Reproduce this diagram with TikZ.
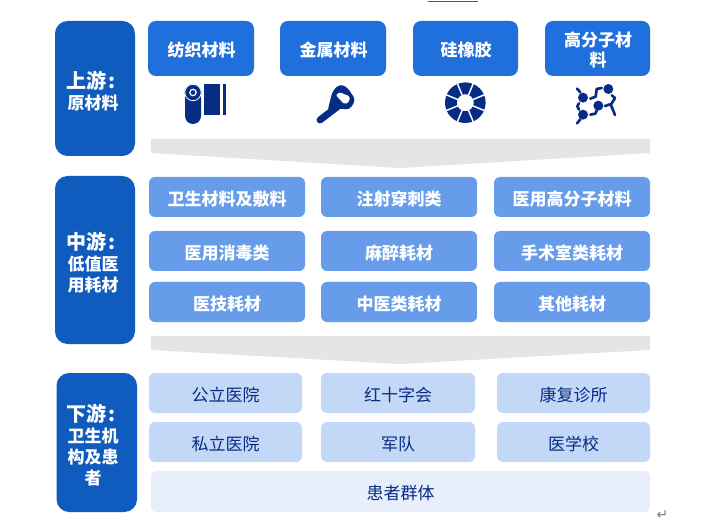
\documentclass[tikz,border=0pt]{standalone}
\usepackage{fontspec}
\setmainfont{Noto Sans CJK SC}
\newfontfamily\symfont{DejaVu Sans}
\definecolor{cside}{HTML}{0F5BBE}
\definecolor{ctop}{HTML}{1F6FDD}
\definecolor{cmid}{HTML}{669CEA}
\definecolor{clow}{HTML}{C3D7F6}
\definecolor{cpat}{HTML}{E8EFFB}
\definecolor{cnavy}{HTML}{072C84}
\definecolor{cgrey}{HTML}{E5E5E5}
\definecolor{crule}{HTML}{2A5CB8}
\tikzset{
  x=0.75pt,y=-0.75pt,
  boxbase/.style={inner sep=0pt,outer sep=0pt,align=center,anchor=center},
  sidebox/.style={boxbase,fill=cside,rounded corners=9.5pt,text=white,font=\fontsize{12.75}{15.6}\selectfont\bfseries},
  topbox/.style={boxbase,fill=ctop,rounded corners=6pt,text=white,font=\fontsize{12.75}{15}\selectfont\bfseries},
  midbox/.style={boxbase,fill=cmid,rounded corners=4.5pt,text=white,font=\fontsize{12.75}{15}\selectfont\bfseries},
  lowbox/.style={boxbase,fill=clow,rounded corners=4.5pt,text=cnavy,font=\fontsize{12.75}{15}\selectfont},
  patbox/.style={boxbase,fill=cpat,rounded corners=4.5pt,text=cnavy,font=\fontsize{12.75}{15}\selectfont},
  band/.style={fill=cgrey},
  icon/.style={fill=cnavy},
  molbond/.style={draw=cnavy,line width=2pt,line cap=round,line join=round},
}
% \bx{name}{style}{x0}{y0}{x1}{y1}{text}: box, then its text moved by \bxdx,\bxdy
\newcommand{\bxdx}{0pt}
\newcommand{\bxdy}{-1.5pt}
\newcommand{\bx}[7]{%
  \pgfmathsetmacro{\bxw}{(#5-#3)*0.75}%
  \pgfmathsetmacro{\bxh}{(#6-#4)*0.75}%
  \node[#2,minimum width=\bxw pt,minimum height=\bxh pt] (#1) at ({(#3+#5)/2},{(#4+#6)/2}) {};
  \node[#2,fill=none,minimum width=0pt,minimum height=0pt] (#1-t) at ([xshift=\bxdx,yshift=\bxdy]#1.center) {#7};}
\newcommand{\headln}[1]{{\fontsize{15}{18}\selectfont #1\kern1pt:\kern3pt}}
\begin{document}
\begin{tikzpicture}
\useasboundingbox (0,0) rectangle (705,530);
\fill[white] (0,0) rectangle (705,530);
% top rule
\draw[crule,line width=0.6pt] (428,1.5) -- (478,1.5);
% side boxes
\renewcommand{\bxdx}{-1.5pt}\renewcommand{\bxdy}{-2pt}
\bx{up}{sidebox}{55}{21}{135}{156}{\headln{上游}\\原材料}
\bx{mid}{sidebox}{55}{176}{135}{344}{\headln{中游}\\低值医\\用耗材}
\renewcommand{\bxdx}{-2.8pt}
\bx{down}{sidebox}{56.5}{373}{137}{512}{\headln{下游}\\卫生机\\构及患\\者}
% top row
\renewcommand{\bxdx}{0.4pt}\renewcommand{\bxdy}{-1pt}
\bx{t1}{topbox}{148}{21}{254}{76}{纺织材料}
\bx{t2}{topbox}{280}{21}{386}{76}{金属材料}
\bx{t3}{topbox}{413}{21}{518}{76}{硅橡胶}
\renewcommand{\bxdy}{-0.75pt}
\bx{t4}{topbox}{545}{21}{650}{76}{高分子材\\料}
\renewcommand{\bxdx}{0pt}\renewcommand{\bxdy}{-1.2pt}
% bands
\fill[band] (151,139) -- (650,139) -- (650,153) -- (400,168) -- (151,153) -- cycle;
\fill[band] (151,336) -- (650,336) -- (650,350) -- (400,364) -- (151,350) -- cycle;
% middle
\bx{m1}{midbox}{149}{177}{305}{217}{卫生材料及敷料}
\bx{m2}{midbox}{321}{177}{477}{217}{注射穿刺类}
\bx{m3}{midbox}{494}{177}{650}{217}{医用高分子材料}
\bx{m4}{midbox}{149}{231}{305}{271}{医用消毒类}
\bx{m5}{midbox}{321}{231}{477}{271}{麻醉耗材}
\bx{m6}{midbox}{494}{231}{650}{271}{手术室类耗材}
\bx{m7}{midbox}{149}{282}{305}{322}{医技耗材}
\bx{m8}{midbox}{321}{282}{477}{322}{中医类耗材}
\bx{m9}{midbox}{494}{282}{650}{322}{其他耗材}
% lower
\bx{l1}{lowbox}{149}{373}{302}{413}{公立医院}
\bx{l2}{lowbox}{321}{373}{475}{413}{红十字会}
\bx{l3}{lowbox}{497}{373}{650}{413}{康复诊所}
\bx{l4}{lowbox}{149}{422}{302}{462}{私立医院}
\bx{l5}{lowbox}{321}{422}{475}{462}{军队}
\bx{l6}{lowbox}{497}{422}{650}{462}{医学校}
\bx{l7}{patbox}{151}{471}{650}{512}{患者群体}
% return mark
\node[inner sep=0pt,text=gray,font=\symfont\fontsize{10.5}{10.5}\selectfont] (ret) at (662.5,515.5) {↵};
% icon: roll
\fill[icon,rounded corners=6pt] (185,90) -- (201,90) -- (201,124) -- (185,124) -- cycle;
\fill[icon] (193,92.5) circle[radius=8.5];
\draw[white,line width=0.6pt] (193,92.5) circle[radius=8.2];
\draw[white,line width=0.9pt] (193,92.5) circle[radius=3.2];
\fill[icon] (203.5,84) rectangle (220,115);
\fill[icon] (222.5,84) rectangle (225.5,115);
% icon: key
\begin{scope}[shift={(140,0)},x=0.25pt,y=-0.25pt]
\draw[cnavy,line width=5.2pt,line cap=round] (540,360) -- (595,318);
\fill[icon,rounded corners=3pt] (562,335) -- (578,272) -- (600,252) -- (622,262) -- (647,300) -- (628,330) -- (600,325) -- cycle;
\fill[white,rounded corners=1.5pt] (587,285) -- (603,275) -- (612,285) -- (627,285) -- (630,303) -- (614,314) -- cycle;
\end{scope}
% icon: rubber ring
\begin{scope}[shift={(465.3,102.7)}]
\fill[icon,even odd rule] (0,0) circle[radius=20.3] (0,0) circle[radius=8.5];
\foreach \a in {22.5,67.5,...,360}
  \draw[white,line width=1.1pt] (\a:8) -- (\a:21);
\end{scope}
% icon: molecule
\begin{scope}[shift={(420,0)},x=0.25pt,y=-0.25pt]
\foreach \p in {(565,267),(489,293),(535,317),(489,344)}
  \fill[icon] \p circle[radius=15];
\draw[molbond] (471,266) -- (481,277);
\draw[molbond] (511,296) -- (527,290) -- (530,267) -- (545,264);
\draw[molbond] (575,286) -- (585,294) -- (574,312) -- (555,318);
\draw[molbond] (574,318) -- (585,345);
\draw[molbond] (477,310) -- (472,319) -- (477,329);
\draw[molbond] (511,344) -- (526,341) -- (530,332);
\draw[molbond] (481,358) -- (471,370);
\end{scope}
\end{tikzpicture}
\end{document}
